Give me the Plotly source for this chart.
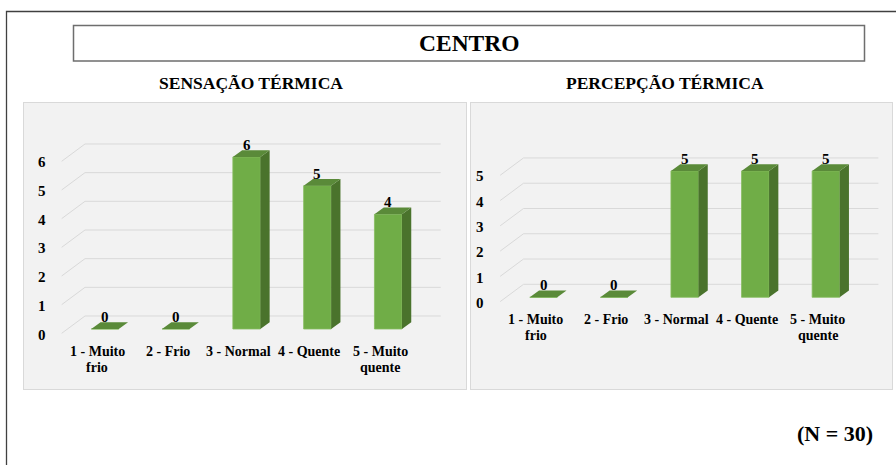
import plotly.graph_objects as go

# ---------------- data ----------------
categories = ["1 - Muito<br>frio", "2 - Frio", "3 - Normal", "4 - Quente", "5 - Muito<br>quente"]
sensacao = [0, 0, 6, 5, 4]
percepcao = [0, 0, 5, 5, 5]
sens_ticks = [0, 1, 2, 3, 4, 5, 6]
perc_ticks = [0, 1, 2, 3, 4, 5]
main_title = "CENTRO"
panel_titles = ["SENSAÇÃO TÉRMICA", "PERCEPÇÃO TÉRMICA"]
note = "(N = 30)"

# ---------------- layout / style ----------------
W, H = 896, 465
FONT = "'Liberation Serif', 'Times New Roman', serif"
FRONT = "#70ad47"
TOP = "#5a8a39"
SIDE = "#4a732c"
GRID = "#d9d9d9"

panels = [
    dict(values=sensacao, ticks=sens_ticks, title=panel_titles[0],
         box=(24, 103, 466, 389), x0=105.0, sx=70.8, y0=329.0, sy=28.67,
         xa="x", ya="y", tx=251),
    dict(values=percepcao, ticks=perc_ticks, title=panel_titles[1],
         box=(471, 103, 892, 389), x0=543.5, sx=70.6, y0=297.3, sy=25.27,
         xa="x2", ya="y2", tx=665),
]

BAR_W_PX = 27.5
DEPTH_DX_PX, DEPTH_DY_PX = 9.3, 6.7
WALL_BACK_X_PX = -20.0
WALL_END_PX = 52.5
WALL_BACK_DY_PX = 13.0
WALL_FRONT_DX_PX = -23.3
WALL_FRONT_DY_PX = -4.3
CAT_LINE1_PX, CAT_LINE_GAP_PX = -22.0, 16.0

fig = go.Figure()
annotations = []
shapes = []
layout_axes = {}

for k, p in enumerate(panels):
    sx, sy = p["sx"], p["sy"]
    L, T, R, B = p["box"]
    n = len(p["values"])
    xs = list(range(n))
    ux = lambda px: px / sx
    uy = lambda py: py / sy

    # ---- wall gridlines (below the bars) ----
    xb = ux(WALL_BACK_X_PX)
    xe = (n - 1) + ux(WALL_END_PX)
    xf = xb + ux(WALL_FRONT_DX_PX)
    for v in p["ticks"]:
        yb = v + uy(WALL_BACK_DY_PX)
        yf = v + uy(WALL_FRONT_DY_PX)
        path = f"M {xf},{yf} L {xb},{yb} L {xe},{yb}"
        shapes.append(dict(type="path", path=path, xref=p["xa"], yref=p["ya"],
                           layer="below", line=dict(color=GRID, width=1)))

    # ---- front faces ----
    bw = ux(BAR_W_PX)
    fig.add_trace(go.Bar(x=xs, y=p["values"], width=bw, marker=dict(color=FRONT,
                         line=dict(color="#86bd60", width=0.8)),
                         showlegend=False, xaxis=p["xa"], yaxis=p["ya"]))

    # ---- side and top faces ----
    ddx, ddy = ux(DEPTH_DX_PX), uy(DEPTH_DY_PX)
    sxl, syl, txl, tyl = [], [], [], []
    for i, v in zip(xs, p["values"]):
        xl, xr = i - bw / 2, i + bw / 2
        if v > 0:
            sxl += [xr, xr + ddx, xr + ddx, xr, xr, None]
            syl += [0, ddy, v + ddy, v, 0, None]
        txl += [xl, xr, xr + ddx, xl + ddx, xl, None]
        tyl += [v, v, v + ddy, v + ddy, v, None]
    fig.add_trace(go.Scatter(x=sxl, y=syl, mode="lines", fill="toself", fillcolor=SIDE,
                             line=dict(width=0, color=SIDE), hoverinfo="skip",
                             showlegend=False, xaxis=p["xa"], yaxis=p["ya"]))
    fig.add_trace(go.Scatter(x=txl, y=tyl, mode="lines", fill="toself", fillcolor=TOP,
                             line=dict(width=0, color=TOP), hoverinfo="skip",
                             showlegend=False, xaxis=p["xa"], yaxis=p["ya"]))

    # ---- data labels ----
    for i, v in zip(xs, p["values"]):
        annotations.append(dict(x=i, y=v, xref=p["xa"], yref=p["ya"], text=f"<b>{v}</b>",
                                showarrow=False, yshift=12, xanchor="center", yanchor="middle",
                                font=dict(family=FONT, size=15, color="black")))
    # ---- category labels (one annotation per line for tight spacing) ----
    for i, c in zip(xs, categories):
        for j, line in enumerate(c.split("<br>")):
            annotations.append(dict(x=i, y=0, xref=p["xa"], yref=p["ya"], text=f"<b>{line}</b>",
                                    showarrow=False, yshift=CAT_LINE1_PX - j * CAT_LINE_GAP_PX,
                                    xshift=-8, xanchor="center", yanchor="middle",
                                    font=dict(family=FONT, size=14, color="black")))
    # ---- value axis labels ----
    for v in p["ticks"]:
        annotations.append(dict(x=xf - ux(14), y=v, xref=p["xa"], yref=p["ya"], text=f"<b>{v}</b>",
                                showarrow=False, yshift=-5.5, xanchor="right", yanchor="middle",
                                font=dict(family=FONT, size=15, color="black")))
    # ---- panel title ----
    annotations.append(dict(x=p["tx"] / W, y=1 - 83 / H, xref="paper", yref="paper",
                            text=f"<b>{p['title']}</b>", showarrow=False, xanchor="center",
                            yanchor="middle", font=dict(family=FONT, size=17.5, color="black")))

    sfx = "" if k == 0 else "2"
    layout_axes["xaxis" + sfx] = dict(domain=[L / W, R / W],
                                      range=[(L - p["x0"]) / sx, (R - p["x0"]) / sx],
                                      showgrid=False, zeroline=False, showticklabels=False,
                                      showline=True, mirror=True, linecolor=GRID, linewidth=1,
                                      anchor="y" + sfx, fixedrange=True)
    layout_axes["yaxis" + sfx] = dict(domain=[1 - B / H, 1 - T / H],
                                      range=[(p["y0"] - B) / sy, (p["y0"] - T) / sy],
                                      showgrid=False, zeroline=False, showticklabels=False,
                                      showline=True, mirror=True, linecolor=GRID, linewidth=1,
                                      anchor="x" + sfx, fixedrange=True)

annotations.append(dict(x=469 / W, y=1 - 43 / H, xref="paper", yref="paper",
                        text=f"<b>{main_title}</b>", showarrow=False, xanchor="center",
                        yanchor="middle", font=dict(family=FONT, size=23.5, color="black")))
annotations.append(dict(x=835 / W, y=1 - 433 / H, xref="paper", yref="paper",
                        text=f"<b>{note}</b>", showarrow=False, xanchor="center",
                        yanchor="middle", font=dict(family=FONT, size=22, color="black")))

shapes += [
    dict(type="rect", xref="paper", yref="paper", x0=6.5 / W, x1=1.05, y0=-0.05, y1=1 - 11.5 / H,
         line=dict(color="#404040", width=1.3), fillcolor="rgba(0,0,0,0)"),
    dict(type="rect", xref="paper", yref="paper", x0=73.5 / W, x1=864.5 / W,
         y0=1 - 61 / H, y1=1 - 25.5 / H,
         line=dict(color="#6e6e6e", width=1.5), fillcolor="rgba(0,0,0,0)"),
]

fig.update_layout(width=W, height=H, margin=dict(l=0, r=0, t=0, b=0),
                  paper_bgcolor="white", plot_bgcolor="#f2f2f2",
                  font=dict(family=FONT),
                  showlegend=False, barmode="overlay",
                  annotations=annotations, shapes=shapes, **layout_axes)

fig.write_html("out.html")
